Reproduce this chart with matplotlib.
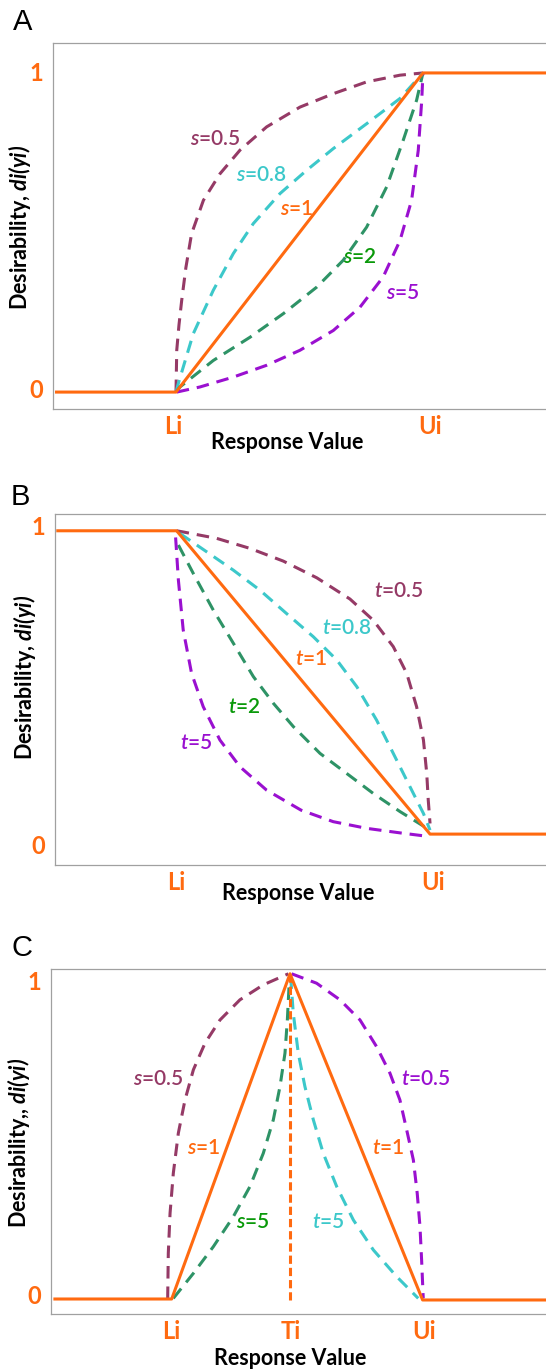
import matplotlib
matplotlib.use('Agg')
import matplotlib.pyplot as plt

# x is scaled so that Li=0 and Ui=1 (panels A, B); panel C has Li=0, Ui=2
# ---- panel A : one-sided, increasing (s curves)
a_s1_x = [-0.49, 0, 1, 1.6]
a_s1_y = [0, 0, 1, 1]
a_s05_x = [0, 0.003, 0.012, 0.023, 0.040, 0.063, 0.111, 0.178, 0.259, 0.367, 0.502, 0.637, 0.772, 0.907, 1.0]
a_s05_y = [0, 0.131, 0.210, 0.287, 0.390, 0.496, 0.601, 0.684, 0.758, 0.831, 0.893, 0.935, 0.972, 0.993, 1.0]
a_s08_x = [0, 0.009, 0.070, 0.151, 0.232, 0.313, 0.421, 0.529, 0.637, 0.772, 0.907, 1.0]
a_s08_y = [0, 0.026, 0.183, 0.319, 0.434, 0.528, 0.622, 0.695, 0.763, 0.841, 0.920, 1.0]
a_s2_x = [0, 0.016, 0.151, 0.300, 0.435, 0.570, 0.677, 0.772, 0.853, 0.920, 0.974, 1.0]
a_s2_y = [0, 0.016, 0.099, 0.172, 0.246, 0.329, 0.413, 0.517, 0.643, 0.789, 0.914, 1.0]
a_s5_x = [0.003, 0.097, 0.232, 0.367, 0.502, 0.637, 0.745, 0.839, 0.907, 0.954, 0.981, 0.995, 1.0]
a_s5_y = [0, 0.016, 0.047, 0.084, 0.131, 0.193, 0.266, 0.361, 0.475, 0.601, 0.758, 0.914, 1.0]

# ---- panel B : one-sided, decreasing (t curves)
b_t1_x = [-0.475, 0, 1, 1.6]
b_t1_y = [1, 1, 0, 0]
b_t05_x = [0, 0.020, 0.158, 0.289, 0.421, 0.553, 0.684, 0.776, 0.855, 0.908, 0.947, 0.974, 0.987, 0.993, 1.0]
b_t05_y = [1, 0.997, 0.975, 0.942, 0.900, 0.845, 0.775, 0.705, 0.618, 0.530, 0.420, 0.310, 0.200, 0.112, 0.035]
b_t08_x = [0.013, 0.118, 0.224, 0.329, 0.434, 0.539, 0.632, 0.711, 0.789, 0.855, 0.921, 0.974, 1.0]
b_t08_y = [0.991, 0.931, 0.870, 0.804, 0.727, 0.651, 0.574, 0.486, 0.376, 0.266, 0.156, 0.068, 0.013]
b_t2_x = [0.007, 0.066, 0.145, 0.224, 0.303, 0.382, 0.461, 0.566, 0.671, 0.776, 0.882, 1.0]
b_t2_y = [0.953, 0.859, 0.738, 0.629, 0.519, 0.431, 0.354, 0.266, 0.200, 0.134, 0.074, 0.013]
b_t5_x = [-0.004, 0.007, 0.026, 0.059, 0.105, 0.171, 0.250, 0.355, 0.491, 0.618, 0.750, 0.882, 0.987]
b_t5_y = [0.978, 0.837, 0.673, 0.530, 0.420, 0.310, 0.222, 0.145, 0.079, 0.041, 0.019, 0.004, -0.007]

# ---- panel C : two-sided with target Ti
c_tri_x = [-0.943, 0, 0.943, 2.0, 3.2]
c_tri_y = [0, 0, 1.0, -0.003, -0.003]
c_target_x = [0.943, 0.943]
c_target_y = [1.0, -0.003]
c_s05_x = [-0.032, -0.027, -0.013, 0.013, 0.053, 0.106, 0.173, 0.266, 0.385, 0.544, 0.730, 0.930]
c_s05_y = [0, 0.141, 0.264, 0.387, 0.510, 0.612, 0.705, 0.787, 0.858, 0.920, 0.966, 1.0]
c_s5_x = [0.013, 0.173, 0.332, 0.491, 0.624, 0.730, 0.810, 0.863, 0.903, 0.922, 0.938]
c_s5_y = [0.002, 0.079, 0.161, 0.253, 0.346, 0.448, 0.551, 0.653, 0.756, 0.859, 0.982]
c_t05_x = [0.956, 1.155, 1.341, 1.501, 1.633, 1.740, 1.819, 1.873, 1.926, 1.957, 1.979, 1.992, 2.005]
c_t05_y = [1.0, 0.971, 0.920, 0.858, 0.776, 0.694, 0.612, 0.520, 0.428, 0.325, 0.223, 0.120, 0.002]
c_t5_x = [0.948, 0.969, 1.009, 1.062, 1.129, 1.208, 1.315, 1.448, 1.607, 1.793, 1.965]
c_t5_y = [0.992, 0.879, 0.756, 0.653, 0.551, 0.448, 0.346, 0.243, 0.151, 0.069, 0.002]

ORANGE = '#FF6A10'
MAROON = '#953A66'
CYAN = '#3CC8CA'
GREEN = '#2E9366'
GREEN_TXT = '#0A990A'
PURPLE = '#9A10D0'

plt.rcParams['font.family'] = 'Lato'
plt.rcParams['mathtext.fontset'] = 'custom'
plt.rcParams['mathtext.rm'] = 'Lato'
plt.rcParams['mathtext.it'] = 'Lato:italic:semibold'
plt.rcParams['mathtext.bf'] = 'Lato:bold'
plt.rcParams['mathtext.bfit'] = 'Lato:italic:bold'

LW = 2.2
DASH = (4.1, 2.6)


def dashed(ax, x, y, color):
    ax.plot(x, y, color=color, lw=LW, linestyle=(0, DASH))


def setup_axes(ax, xlim, ylim, xticks, xlabels, yticks, ylabel, xlab_pos, ylab_pos):
    ax.set_xlim(xlim)
    ax.set_ylim(ylim)
    for sp in ax.spines.values():
        sp.set_color('#A0A0A0')
        sp.set_linewidth(0.9)
    ax.set_xticks(xticks)
    ax.set_xticklabels(xlabels)
    ax.set_yticks(yticks)
    ax.set_yticklabels(['1', '0'])
    ax.tick_params(length=0, labelsize=17, labelcolor=ORANGE)
    ax.tick_params(axis='x', pad=4)
    ax.tick_params(axis='y', pad=7)
    for lab in ax.get_xticklabels() + ax.get_yticklabels():
        lab.set_fontweight('bold')
    ax.set_xlabel('Response Value', fontsize=15.5, fontweight='bold')
    ax.xaxis.set_label_coords(*xlab_pos)
    ax.xaxis.label.set_va('top')
    ax.set_ylabel(ylabel, fontsize=15.5, fontweight='bold')
    ax.yaxis.set_label_coords(*ylab_pos)


def label(ax, x, y, text, color):
    ax.text(x, y, text, color=color, fontsize=15, fontweight='semibold', ha='center', va='center')


fig = plt.figure(figsize=(5.46, 13.72), dpi=100)

# ---------- A
ax = fig.add_axes([0.0971, 0.7019, 0.9286, 0.2668])
dashed(ax, a_s05_x, a_s05_y, MAROON)
dashed(ax, a_s08_x, a_s08_y, CYAN)
dashed(ax, a_s2_x, a_s2_y, GREEN)
dashed(ax, a_s5_x, a_s5_y, PURPLE)
ax.plot(a_s1_x, a_s1_y, color=ORANGE, lw=LW, solid_capstyle='butt')
setup_axes(ax, (-0.498, 1.555), (-0.053, 1.094), [-0.01, 1.03], ['Li', 'Ui'], [1.003, 0.011],
           r'Desirability, $\mathbfit{di(yi)}$', (0.4615, -0.063), (-0.039, 0.497))
label(ax, 0.158, 0.794, r'$\mathit{s}$=0.5', MAROON)
label(ax, 0.347, 0.679, r'$\mathit{s}$=0.8', CYAN)
label(ax, 0.489, 0.575, r'$\mathit{s}$=1', ORANGE)
label(ax, 0.745, 0.423, r'$\mathit{s}$=2', GREEN_TXT)
label(ax, 0.920, 0.310, r'$\mathit{s}$=5', PURPLE)
fig.text(23 / 546, 1 - 22 / 1372, 'A', fontsize=21, family='Liberation Sans', ha='center', va='center')

# ---------- B
ax = fig.add_axes([0.1007, 0.3695, 0.925, 0.2558])
dashed(ax, b_t05_x, b_t05_y, MAROON)
dashed(ax, b_t08_x, b_t08_y, CYAN)
dashed(ax, b_t2_x, b_t2_y, GREEN)
dashed(ax, b_t5_x, b_t5_y, PURPLE)
ax.plot(b_t1_x, b_t1_y, color=ORANGE, lw=LW, solid_capstyle='butt')
setup_axes(ax, (-0.480, 1.513), (-0.102, 1.055), [0, 1.013], ['Li', 'Ui'], [1.019, -0.033],
           r'Desirability, $\mathbfit{di(yi)}$', (0.481, -0.051), (-0.034, 0.536))
label(ax, 0.875, 0.802, r'$\mathit{t}$=0.5', MAROON)
label(ax, 0.671, 0.680, r'$\mathit{t}$=0.8', CYAN)
label(ax, 0.530, 0.577, r'$\mathit{t}$=1', ORANGE)
label(ax, 0.266, 0.420, r'$\mathit{t}$=2', GREEN_TXT)
label(ax, 0.079, 0.299, r'$\mathit{t}$=5', PURPLE)
fig.text(20 / 546, 1 - 497 / 1372, 'B', fontsize=21, family='Liberation Sans', ha='center', va='center')

# ---------- C
ax = fig.add_axes([0.0934, 0.0423, 0.932, 0.2515])
dashed(ax, c_s05_x, c_s05_y, MAROON)
dashed(ax, c_s5_x, c_s5_y, GREEN)
dashed(ax, c_t05_x, c_t05_y, PURPLE)
dashed(ax, c_t5_x, c_t5_y, CYAN)
ax.plot(c_target_x, c_target_y, color=ORANGE, lw=LW, linestyle=(0, (2.7, 1.3)))
ax.plot(c_tri_x, c_tri_y, color=ORANGE, lw=LW, solid_capstyle='butt')
setup_axes(ax, (-0.962, 3.094), (-0.046, 1.015), [0, 0.951, 2.011], ['Li', 'Ti', 'Ui'], [0.978, 0.015],
           r'Desirability,, $\mathbfit{di(yi)}$', (0.4695, -0.099), (-0.037, 0.496))
label(ax, -0.106, 0.676, r'$\mathit{s}$=0.5', MAROON)
label(ax, 0.258, 0.464, r'$\mathit{s}$=1', ORANGE)
label(ax, 0.645, 0.238, r'$\mathit{s}$=5', GREEN_TXT)
label(ax, 1.248, 0.238, r'$\mathit{t}$=5', CYAN)
label(ax, 1.726, 0.464, r'$\mathit{t}$=1', ORANGE)
label(ax, 2.027, 0.676, r'$\mathit{t}$=0.5', PURPLE)
fig.text(22 / 546, 1 - 948 / 1372, 'C', fontsize=21, family='Liberation Sans', ha='center', va='center')

fig.savefig('out.png', dpi=100)
